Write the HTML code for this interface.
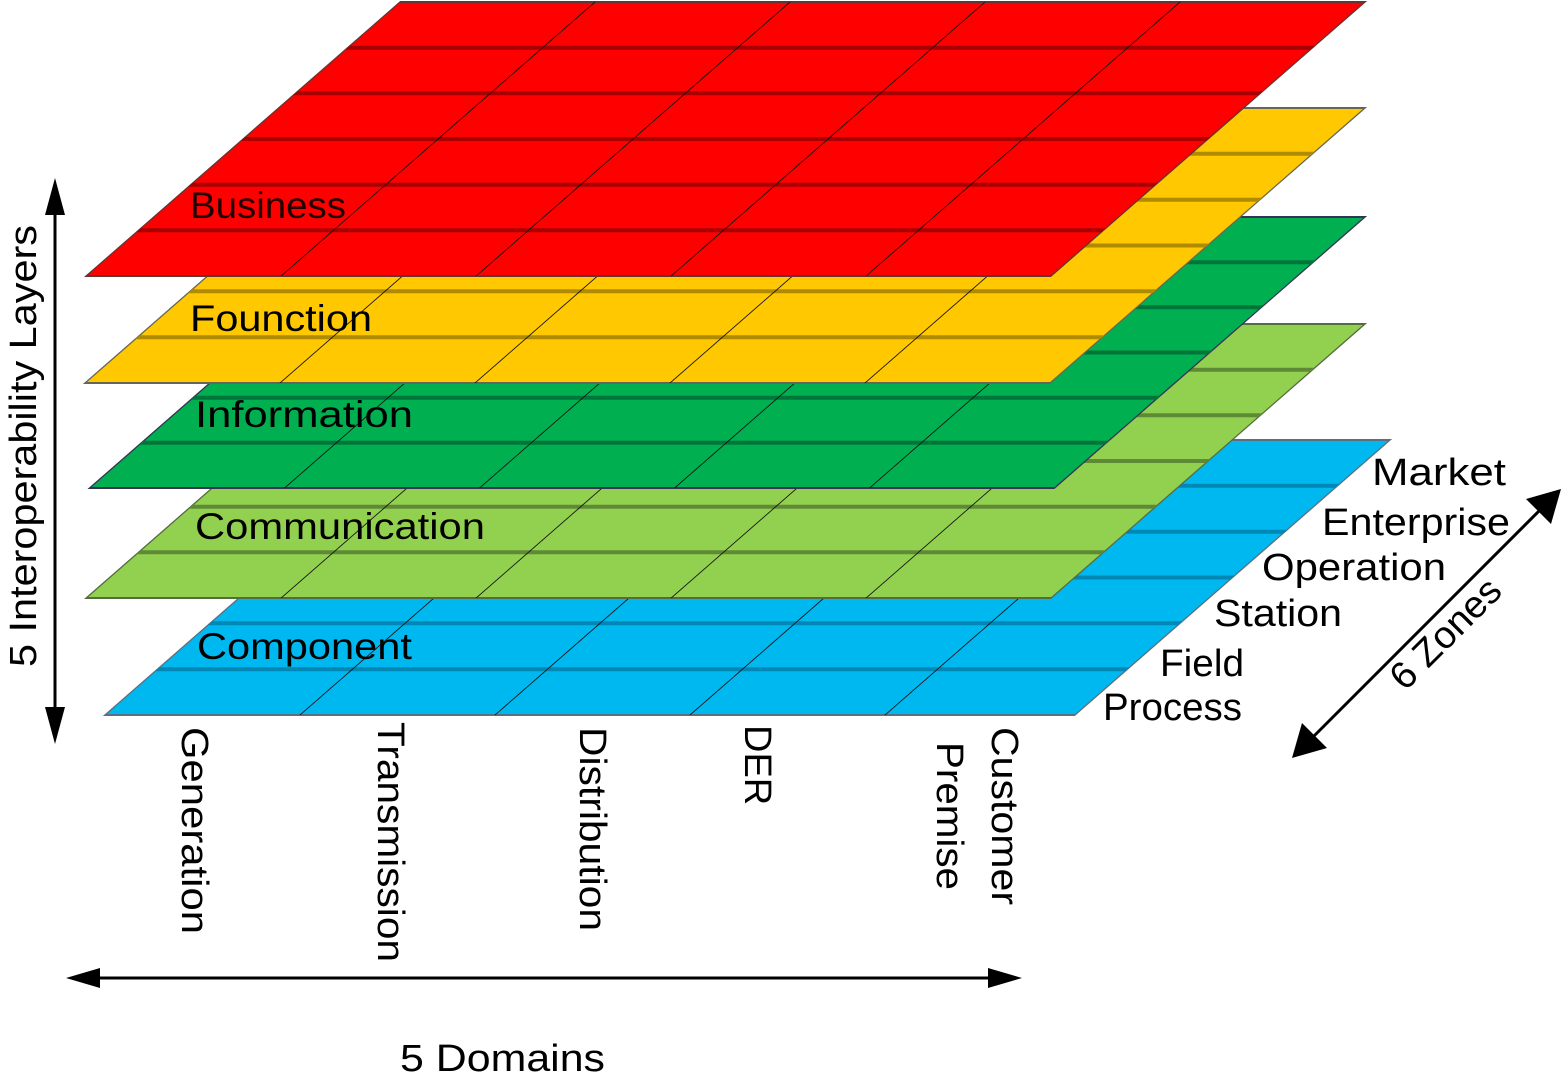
<!DOCTYPE html>
<html><head><meta charset="utf-8"><style>
html,body{margin:0;padding:0;background:#fff;}
svg{display:block;font-family:"Liberation Sans","DejaVu Sans",sans-serif;}
</style></head><body>
<svg width="1563" height="1074" viewBox="0 0 1563 1074" xmlns="http://www.w3.org/2000/svg">
<!-- Blue layer -->
<g transform="matrix(1 0 -1.14545 1 420 440)">
<rect x="0" y="0" width="970" height="275" fill="#00b8f0" stroke="#5a7080" stroke-width="2"/>
<g stroke="#0087b5" stroke-width="4">
<line x1="0" y1="45.8" x2="970" y2="45.8"/><line x1="0" y1="91.7" x2="970" y2="91.7"/><line x1="0" y1="137.5" x2="970" y2="137.5"/><line x1="0" y1="183.3" x2="970" y2="183.3"/><line x1="0" y1="229.2" x2="970" y2="229.2"/></g>
<g stroke="#111" stroke-width="1.3"><line x1="195" y1="0" x2="195" y2="275"/><line x1="390" y1="0" x2="390" y2="275"/><line x1="585" y1="0" x2="585" y2="275"/><line x1="780" y1="0" x2="780" y2="275"/></g>
</g>
<!-- Light green -->
<g transform="matrix(1 0 -1.14545 1 400 324)">
<rect x="0" y="0" width="965" height="274" fill="#92d050" stroke="#556b40" stroke-width="2"/>
<g stroke="#5f8a35" stroke-width="4">
<line x1="0" y1="45.7" x2="965" y2="45.7"/><line x1="0" y1="91.3" x2="965" y2="91.3"/><line x1="0" y1="137" x2="965" y2="137"/><line x1="0" y1="182.7" x2="965" y2="182.7"/><line x1="0" y1="228.3" x2="965" y2="228.3"/></g>
<g stroke="#111" stroke-width="1.3"><line x1="195" y1="0" x2="195" y2="274"/><line x1="390" y1="0" x2="390" y2="274"/><line x1="585" y1="0" x2="585" y2="274"/><line x1="780" y1="0" x2="780" y2="274"/></g>
</g>
<!-- Dark green -->
<g transform="matrix(1 0 -1.14545 1 400 217)">
<rect x="0" y="0" width="965" height="271" fill="#00b050" stroke="#335" stroke-width="2"/>
<g stroke="#00753a" stroke-width="4">
<line x1="0" y1="45.2" x2="965" y2="45.2"/><line x1="0" y1="90.3" x2="965" y2="90.3"/><line x1="0" y1="135.5" x2="965" y2="135.5"/><line x1="0" y1="180.7" x2="965" y2="180.7"/><line x1="0" y1="225.8" x2="965" y2="225.8"/></g>
<g stroke="#111" stroke-width="1.3"><line x1="195" y1="0" x2="195" y2="271"/><line x1="390" y1="0" x2="390" y2="271"/><line x1="585" y1="0" x2="585" y2="271"/><line x1="780" y1="0" x2="780" y2="271"/></g>
</g>
<!-- Yellow -->
<g transform="matrix(1 0 -1.14545 1 400 108)">
<rect x="0" y="0" width="965" height="275" fill="#ffc800" stroke="#665" stroke-width="2"/>
<g stroke="#b08a00" stroke-width="4">
<line x1="0" y1="45.8" x2="965" y2="45.8"/><line x1="0" y1="91.7" x2="965" y2="91.7"/><line x1="0" y1="137.5" x2="965" y2="137.5"/><line x1="0" y1="183.3" x2="965" y2="183.3"/><line x1="0" y1="229.2" x2="965" y2="229.2"/></g>
<g stroke="#111" stroke-width="1.3"><line x1="195" y1="0" x2="195" y2="275"/><line x1="390" y1="0" x2="390" y2="275"/><line x1="585" y1="0" x2="585" y2="275"/><line x1="780" y1="0" x2="780" y2="275"/></g>
</g>
<!-- Red -->
<g transform="matrix(1 0 -1.14545 1 400 2)">
<rect x="0" y="0" width="965" height="274" fill="#ff0000" stroke="#633" stroke-width="2"/>
<g stroke="#a80000" stroke-width="4">
<line x1="0" y1="45.7" x2="965" y2="45.7"/><line x1="0" y1="91.3" x2="965" y2="91.3"/><line x1="0" y1="137" x2="965" y2="137"/><line x1="0" y1="182.7" x2="965" y2="182.7"/><line x1="0" y1="228.3" x2="965" y2="228.3"/></g>
<g stroke="#111" stroke-width="1.3"><line x1="195" y1="0" x2="195" y2="274"/><line x1="390" y1="0" x2="390" y2="274"/><line x1="585" y1="0" x2="585" y2="274"/><line x1="780" y1="0" x2="780" y2="274"/></g>
</g>

<g font-size="37" fill="#000" lengthAdjust="spacingAndGlyphs">
<text x="190" y="218" fill="#200" textLength="156" lengthAdjust="spacingAndGlyphs">Business</text>
<text x="190" y="331" textLength="182" lengthAdjust="spacingAndGlyphs">Founction</text>
<text x="195" y="427" textLength="218" lengthAdjust="spacingAndGlyphs">Information</text>
<text x="195" y="539" textLength="290" lengthAdjust="spacingAndGlyphs">Communication</text>
<text x="197" y="659" textLength="215" lengthAdjust="spacingAndGlyphs">Component</text>
</g>
<g font-size="38" fill="#000">
<text x="1372" y="485" textLength="134" lengthAdjust="spacingAndGlyphs">Market</text>
<text x="1322" y="535" textLength="188" lengthAdjust="spacingAndGlyphs">Enterprise</text>
<text x="1262" y="580" textLength="184" lengthAdjust="spacingAndGlyphs">Operation</text>
<text x="1214" y="626" textLength="128" lengthAdjust="spacingAndGlyphs">Station</text>
<text x="1160" y="676" textLength="84" lengthAdjust="spacingAndGlyphs">Field</text>
<text x="1103" y="720" textLength="139" lengthAdjust="spacingAndGlyphs">Process</text>
</g>
<g font-size="38" fill="#000">
<text transform="translate(182,727) rotate(90)" textLength="207" lengthAdjust="spacingAndGlyphs">Generation</text>
<text transform="translate(378,722) rotate(90)" textLength="240" lengthAdjust="spacingAndGlyphs">Transmission</text>
<text transform="translate(580,727) rotate(90)" textLength="204" lengthAdjust="spacingAndGlyphs">Distribution</text>
<text transform="translate(745,725) rotate(90)">DER</text>
<text transform="translate(992,727) rotate(90)" textLength="178" lengthAdjust="spacingAndGlyphs">Customer</text>
<text transform="translate(937,742) rotate(90)" textLength="148" lengthAdjust="spacingAndGlyphs">Premise</text>
<text transform="translate(36,667) rotate(-90)" textLength="442" lengthAdjust="spacingAndGlyphs">5 Interoperability Layers</text>
<text transform="translate(1405,692) rotate(-45)" textLength="140" lengthAdjust="spacingAndGlyphs">6 Zones</text>
<text x="400" y="1071" textLength="205" lengthAdjust="spacingAndGlyphs">5  Domains</text>
</g>
<!-- arrows -->
<g stroke="#000" stroke-width="3" fill="#000">
<line x1="55" y1="200" x2="55" y2="722"/>
<polygon points="55,178 45,215 65,215" stroke="none"/>
<polygon points="55,744 45,707 65,707" stroke="none"/>
<line x1="88" y1="978" x2="1000" y2="978"/>
<polygon points="66,978 100,968 100,988" stroke="none"/>
<polygon points="1022,978 988,968 988,988" stroke="none"/>
<line x1="1308" y1="742" x2="1545" y2="505"/>
<polygon points="1292,758 1302,723 1327,748" stroke="none"/>
<polygon points="1561,489 1551,524 1526,499" stroke="none"/>
</g>
</svg>
</body></html>
